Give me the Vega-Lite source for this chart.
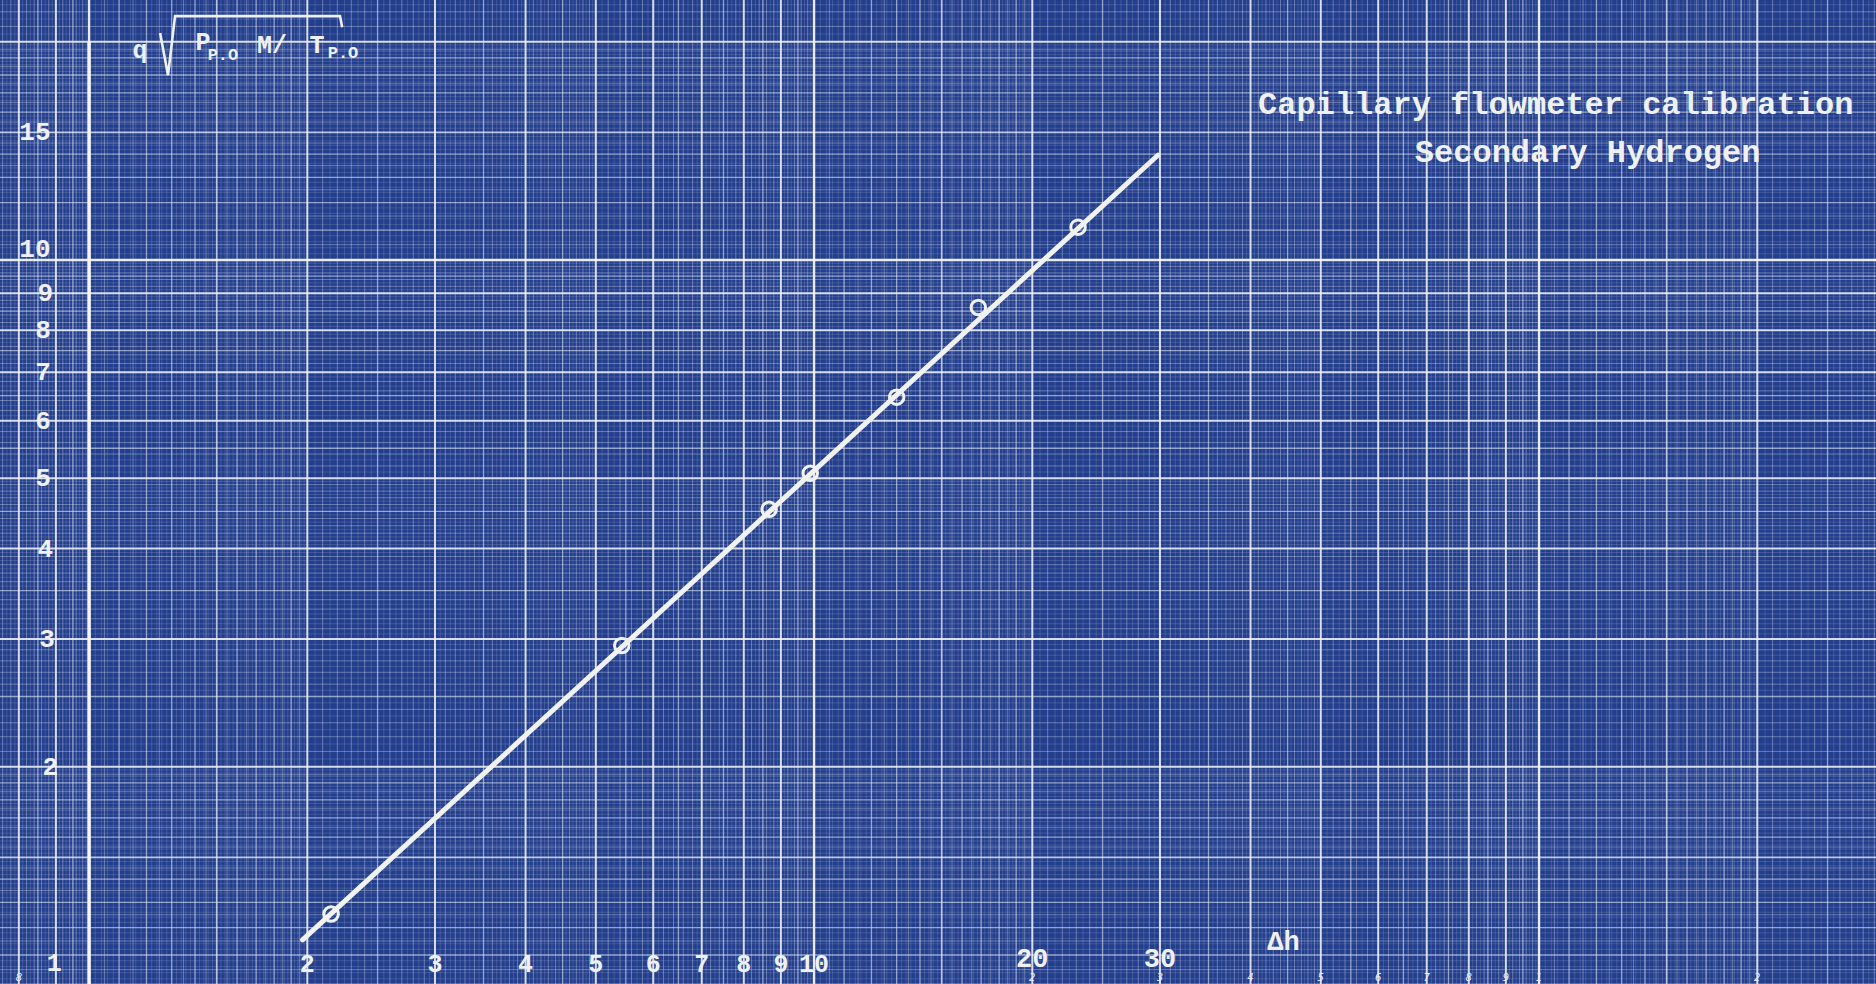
{
  "$schema": "https://vega.github.io/schema/vega-lite/v6.json",
  "width": 1876,
  "height": 984,
  "autosize": {"type": "fit", "contains": "padding"},
  "padding": 0,
  "background": "#233e8c",
  "config": {"view": {"stroke": null}},
  "datasets": {
    "hair": [0.77,0.79,0.81,0.83,0.87,0.89,0.91,0.93,0.97,0.99,
      1.02,1.04,1.06,1.08,1.12,1.14,1.16,1.18,1.22,1.24,1.26,1.28,1.32,1.34,1.36,1.38,1.42,1.44,1.46,1.48,1.52,1.54,1.56,1.58,1.62,1.64,1.66,1.68,1.72,1.74,1.76,1.78,1.82,1.84,1.86,1.88,1.92,1.94,1.96,1.98,
      2.05,2.15,2.25,2.35,2.45,2.55,2.65,2.75,2.85,2.95,3.05,3.15,3.25,3.35,3.45,3.55,3.65,3.75,3.85,3.95,4.05,4.15,4.25,4.35,4.45,4.55,4.65,4.75,4.85,4.95,
      5.1,5.3,5.7,5.9,6.1,6.3,6.7,6.9,7.1,7.3,7.7,7.9,8.1,8.3,8.7,8.9,9.1,9.3,9.7,9.9,
      10.2,10.4,10.6,10.8,11.2,11.4,11.6,11.8,12.2,12.4,12.6,12.8,13.2,13.4,13.6,13.8,14.2,14.4,14.6,14.8,15.2,15.4,15.6,15.8,16.2,16.4,16.6,16.8,17.2,17.4,17.6,17.8,18.2,18.4,18.6,18.8,19.2,19.4,19.6,19.8,
      20.5,21.5,22.5,23.5,24.5,25.5,26.5,27.5,28.5,29.5,30.5,31.5,32.5,33.5,34.5,35.5,36.5,37.5,38.5,39.5,40.5,41.5,42.5,43.5,44.5,45.5,46.5,47.5,48.5,49.5,
      51,53,57,59,61,63,67,69,71,73,77,79,81,83,87,89,91,93,97,99,
      102,104,106,108,112,114,116,118,122,124,126,128,132,134,136,138,142,144,146,148,152,154,156,158,162,164,166,168,172,174,176,178,182,184,186,188,192,194,196,198,
      205,215,225,235,245,255,265,275,285],
    "fine": [0.76,0.78,0.82,0.84,0.86,0.88,0.92,0.94,0.96,0.98,
      1.05,1.15,1.25,1.35,1.45,1.55,1.65,1.75,1.85,1.95,
      2.1,2.2,2.3,2.4,2.6,2.7,2.8,2.9,3.1,3.2,3.3,3.4,3.6,3.7,3.8,3.9,4.1,4.2,4.3,4.4,4.6,4.7,4.8,4.9,
      5.2,5.4,5.6,5.8,6.2,6.4,6.6,6.8,7.2,7.4,7.6,7.8,8.2,8.4,8.6,8.8,9.2,9.4,9.6,9.8,
      10.5,11.5,12.5,13.5,14.5,15.5,16.5,17.5,18.5,19.5,
      21,22,23,24,26,27,28,29,31,32,33,34,36,37,38,39,41,42,43,44,46,47,48,49,
      52,54,56,58,62,64,66,68,72,74,76,78,82,84,86,88,92,94,96,98,
      105,115,125,135,145,155,165,175,185,195,
      210,220,230,240,260,270,280,290],
    "mid": [0.85,0.95,1.1,1.2,1.3,1.4,1.6,1.7,1.8,1.9,2.5,3.5,4.5,5.5,6.5,7.5,8.5,9.5,
      11,12,13,14,16,17,18,19,25,35,45,55,65,75,85,95,
      110,120,130,140,160,170,180,190,250],
    "semi": [1.5,15,150],
    "major": [0.8,0.9,2,3,4,5,6,7,8,9,20,30,40,50,60,70,80,90,200],
    "cycle": [1,10,100]
  },
  "layer": [
    {"data": {"name": "hair"}, "mark": {"type": "rule", "color": "#dde6f3", "strokeWidth": 1, "opacity": 0.16, "clip": true},
     "encoding": {"x": {"field": "data", "type": "quantitative", "scale": {"type": "log", "domain": [0.7536, 291.6], "nice": false}, "axis": null}}},
    {"data": {"name": "hair"}, "mark": {"type": "rule", "color": "#dde6f3", "strokeWidth": 1, "opacity": 0.16, "clip": true},
     "encoding": {"y": {"field": "data", "type": "quantitative", "scale": {"type": "log", "domain": [1.0032, 22.84], "nice": false}, "axis": null}}},
    {"data": {"name": "fine"}, "mark": {"type": "rule", "color": "#e2e9f5", "strokeWidth": 1, "opacity": 0.36, "clip": true},
     "encoding": {"x": {"field": "data", "type": "quantitative", "scale": {"type": "log", "domain": [0.7536, 291.6], "nice": false}, "axis": null}}},
    {"data": {"name": "fine"}, "mark": {"type": "rule", "color": "#e2e9f5", "strokeWidth": 1, "opacity": 0.36, "clip": true},
     "encoding": {"y": {"field": "data", "type": "quantitative", "scale": {"type": "log", "domain": [1.0032, 22.84], "nice": false}, "axis": null}}},
    {"data": {"name": "mid"}, "mark": {"type": "rule", "color": "#e8eef8", "strokeWidth": 1.3, "opacity": 0.58, "clip": true},
     "encoding": {"x": {"field": "data", "type": "quantitative", "scale": {"type": "log", "domain": [0.7536, 291.6], "nice": false}, "axis": null}}},
    {"data": {"name": "mid"}, "mark": {"type": "rule", "color": "#e8eef8", "strokeWidth": 1.3, "opacity": 0.58, "clip": true},
     "encoding": {"y": {"field": "data", "type": "quantitative", "scale": {"type": "log", "domain": [1.0032, 22.84], "nice": false}, "axis": null}}},
    {"data": {"name": "semi"}, "mark": {"type": "rule", "color": "#eef2f8", "strokeWidth": 1.7, "opacity": 0.75, "clip": true},
     "encoding": {"x": {"field": "data", "type": "quantitative", "scale": {"type": "log", "domain": [0.7536, 291.6], "nice": false}, "axis": null}}},
    {"data": {"name": "semi"}, "mark": {"type": "rule", "color": "#eef2f8", "strokeWidth": 1.7, "opacity": 0.75, "clip": true},
     "encoding": {"y": {"field": "data", "type": "quantitative", "scale": {"type": "log", "domain": [1.0032, 22.84], "nice": false}, "axis": null}}},
    {"data": {"name": "major"}, "mark": {"type": "rule", "color": "#f0f3f8", "strokeWidth": 2, "opacity": 0.88, "clip": true},
     "encoding": {"x": {"field": "data", "type": "quantitative", "scale": {"type": "log", "domain": [0.7536, 291.6], "nice": false}, "axis": null}}},
    {"data": {"name": "major"}, "mark": {"type": "rule", "color": "#f0f3f8", "strokeWidth": 2, "opacity": 0.88, "clip": true},
     "encoding": {"y": {"field": "data", "type": "quantitative", "scale": {"type": "log", "domain": [1.0032, 22.84], "nice": false}, "axis": null}}},
    {"data": {"name": "cycle"}, "mark": {"type": "rule", "color": "#f2f4f8", "strokeWidth": 2.4, "opacity": 0.95, "clip": true},
     "encoding": {"x": {"field": "data", "type": "quantitative", "scale": {"type": "log", "domain": [0.7536, 291.6], "nice": false}, "axis": null}}},
    {"data": {"name": "cycle"}, "mark": {"type": "rule", "color": "#f2f4f8", "strokeWidth": 2.4, "opacity": 0.95, "clip": true},
     "encoding": {"y": {"field": "data", "type": "quantitative", "scale": {"type": "log", "domain": [1.0032, 22.84], "nice": false}, "axis": null}}},

    {"data": {"values": [{"x": 1, "y": 1.0, "y2": 20}]},
     "mark": {"type": "rule", "color": "#f4f5f4", "strokeWidth": 3.5, "clip": true},
     "encoding": {
       "x": {"field": "x", "type": "quantitative", "scale": {"type": "log", "domain": [0.7536, 291.6], "nice": false}, "axis": null},
       "y": {"field": "y", "type": "quantitative", "scale": {"type": "log", "domain": [1.0032, 22.84], "nice": false}, "axis": null},
       "y2": {"field": "y2"}}},

    {"data": {"values": [{"dh": 1.97, "q": 1.154}, {"dh": 29.8, "q": 13.95}]},
     "mark": {"type": "line", "color": "#f1f2ef", "strokeWidth": 5, "strokeCap": "round", "clip": true},
     "encoding": {
       "x": {"field": "dh", "type": "quantitative", "scale": {"type": "log", "domain": [0.7536, 291.6], "nice": false}, "axis": null},
       "y": {"field": "q", "type": "quantitative", "scale": {"type": "log", "domain": [1.0032, 22.84], "nice": false}, "axis": null}}},

    {"data": {"values": [
       {"dh": 2.157, "q": 1.253},
       {"dh": 5.43, "q": 2.94},
       {"dh": 8.67, "q": 4.53},
       {"dh": 9.88, "q": 5.08},
       {"dh": 13.0, "q": 6.47},
       {"dh": 16.85, "q": 8.6},
       {"dh": 23.13, "q": 11.1}]},
     "mark": {"type": "point", "shape": "circle", "filled": false, "color": "#f1f2ef", "strokeWidth": 3, "size": 210, "opacity": 1},
     "encoding": {
       "x": {"field": "dh", "type": "quantitative", "scale": {"type": "log", "domain": [0.7536, 291.6], "nice": false}, "axis": null},
       "y": {"field": "q", "type": "quantitative", "scale": {"type": "log", "domain": [1.0032, 22.84], "nice": false}, "axis": null}}},

    {"data": {"values": [
       {"x": 1.253, "y": 20.56, "o": 1},
       {"x": 1.285, "y": 17.99, "o": 2},
       {"x": 1.314, "y": 21.7, "o": 3},
       {"x": 2.219, "y": 21.7, "o": 4},
       {"x": 2.234, "y": 20.95, "o": 5}]},
     "mark": {"type": "line", "color": "#eef0f2", "strokeWidth": 2.6, "clip": true},
     "encoding": {
       "x": {"field": "x", "type": "quantitative", "scale": {"type": "log", "domain": [0.7536, 291.6], "nice": false}, "axis": null},
       "y": {"field": "y", "type": "quantitative", "scale": {"type": "log", "domain": [1.0032, 22.84], "nice": false}, "axis": null},
       "order": {"field": "o", "type": "quantitative"}}},

    {"data": {"values": [
       {"t": "q", "x": 1.176, "y": 19.49},
       {"t": "P", "x": 1.436, "y": 19.98},
       {"t": "M/", "x": 1.788, "y": 19.8},
       {"t": "T", "x": 2.063, "y": 19.8}]},
     "mark": {"type": "text", "font": "Liberation Mono", "fontWeight": "bold", "fontSize": 25, "color": "#eef0f2", "align": "center", "baseline": "middle"},
     "encoding": {
       "x": {"field": "x", "type": "quantitative", "scale": {"type": "log", "domain": [0.7536, 291.6], "nice": false}, "axis": null},
       "y": {"field": "y", "type": "quantitative", "scale": {"type": "log", "domain": [1.0032, 22.84], "nice": false}, "axis": null},
       "text": {"field": "t"}}},

    {"data": {"values": [
       {"t": "P.O", "x": 1.53, "y": 19.18},
       {"t": "P.O", "x": 2.24, "y": 19.3}]},
     "mark": {"type": "text", "font": "Liberation Mono", "fontWeight": "bold", "fontSize": 17, "color": "#eef0f2", "align": "center", "baseline": "middle"},
     "encoding": {
       "x": {"field": "x", "type": "quantitative", "scale": {"type": "log", "domain": [0.7536, 291.6], "nice": false}, "axis": null},
       "y": {"field": "y", "type": "quantitative", "scale": {"type": "log", "domain": [1.0032, 22.84], "nice": false}, "axis": null},
       "text": {"field": "t"}}},

    {"data": {"values": [
       {"t": "15", "x": 0.842, "y": 15},
       {"t": "9", "x": 0.87, "y": 9},
       {"t": "8", "x": 0.864, "y": 8},
       {"t": "7", "x": 0.864, "y": 7},
       {"t": "6", "x": 0.864, "y": 6},
       {"t": "5", "x": 0.864, "y": 5},
       {"t": "4", "x": 0.87, "y": 4},
       {"t": "3", "x": 0.875, "y": 3},
       {"t": "2", "x": 0.884, "y": 2}]},
     "mark": {"type": "text", "font": "Liberation Mono", "fontWeight": "bold", "fontSize": 26, "color": "#eef0f2", "align": "center", "baseline": "middle"},
     "encoding": {
       "x": {"field": "x", "type": "quantitative", "scale": {"type": "log", "domain": [0.7536, 291.6], "nice": false}, "axis": null},
       "y": {"field": "y", "type": "quantitative", "scale": {"type": "log", "domain": [1.0032, 22.84], "nice": false}, "axis": null},
       "text": {"field": "t"}}},

    {"data": {"values": [{"t": "10", "x": 0.842, "y": 10}]},
     "mark": {"type": "text", "font": "Liberation Mono", "fontWeight": "bold", "fontSize": 26, "color": "#eef0f2", "align": "center", "baseline": "middle", "dy": -11},
     "encoding": {
       "x": {"field": "x", "type": "quantitative", "scale": {"type": "log", "domain": [0.7536, 291.6], "nice": false}, "axis": null},
       "y": {"field": "y", "type": "quantitative", "scale": {"type": "log", "domain": [1.0032, 22.84], "nice": false}, "axis": null},
       "text": {"field": "t"}}},

    {"data": {"values": [
       {"t": "1", "x": 0.895, "y": 1.072},
       {"t": "2", "x": 2, "y": 1.07},
       {"t": "3", "x": 3, "y": 1.07},
       {"t": "4", "x": 4, "y": 1.07},
       {"t": "5", "x": 5, "y": 1.07},
       {"t": "6", "x": 6, "y": 1.07},
       {"t": "7", "x": 7, "y": 1.07},
       {"t": "8", "x": 8, "y": 1.07},
       {"t": "9", "x": 9, "y": 1.07},
       {"t": "10", "x": 10, "y": 1.07}]},
     "mark": {"type": "text", "font": "Liberation Mono", "fontWeight": "bold", "fontSize": 25, "color": "#eef0f2", "align": "center", "baseline": "middle"},
     "encoding": {
       "x": {"field": "x", "type": "quantitative", "scale": {"type": "log", "domain": [0.7536, 291.6], "nice": false}, "axis": null},
       "y": {"field": "y", "type": "quantitative", "scale": {"type": "log", "domain": [1.0032, 22.84], "nice": false}, "axis": null},
       "text": {"field": "t"}}},

    {"data": {"values": [
       {"t": "20", "x": 20, "y": 1.085},
       {"t": "30", "x": 30, "y": 1.085},
       {"t": "Δh", "x": 44.4, "y": 1.146}]},
     "mark": {"type": "text", "font": "Liberation Mono", "fontWeight": "bold", "fontSize": 27, "color": "#eef0f2", "align": "center", "baseline": "middle"},
     "encoding": {
       "x": {"field": "x", "type": "quantitative", "scale": {"type": "log", "domain": [0.7536, 291.6], "nice": false}, "axis": null},
       "y": {"field": "y", "type": "quantitative", "scale": {"type": "log", "domain": [1.0032, 22.84], "nice": false}, "axis": null},
       "text": {"field": "t"}}},

    {"data": {"values": [
       {"t": "8", "x": 0.8, "y": 1.022},
       {"t": "2", "x": 20, "y": 1.022},
       {"t": "3", "x": 30, "y": 1.022},
       {"t": "4", "x": 40, "y": 1.022},
       {"t": "5", "x": 50, "y": 1.022},
       {"t": "6", "x": 60, "y": 1.022},
       {"t": "7", "x": 70, "y": 1.022},
       {"t": "8", "x": 80, "y": 1.022},
       {"t": "9", "x": 90, "y": 1.022},
       {"t": "1", "x": 100, "y": 1.022},
       {"t": "2", "x": 200, "y": 1.022}]},
     "mark": {"type": "text", "font": "DejaVu Sans", "fontStyle": "italic", "fontSize": 10, "color": "#e8edf5", "align": "center", "baseline": "middle"},
     "encoding": {
       "x": {"field": "x", "type": "quantitative", "scale": {"type": "log", "domain": [0.7536, 291.6], "nice": false}, "axis": null},
       "y": {"field": "y", "type": "quantitative", "scale": {"type": "log", "domain": [1.0032, 22.84], "nice": false}, "axis": null},
       "text": {"field": "t"}}},

    {"data": {"values": [
       {"t": "Capillary flowmeter calibration", "x": 40.97, "y": 16.41},
       {"t": "Secondary Hydrogen", "x": 67.4, "y": 14.09}]},
     "mark": {"type": "text", "font": "Liberation Mono", "fontWeight": "bold", "fontSize": 32, "color": "#eef0f2", "align": "left", "baseline": "middle"},
     "encoding": {
       "x": {"field": "x", "type": "quantitative", "scale": {"type": "log", "domain": [0.7536, 291.6], "nice": false}, "axis": null},
       "y": {"field": "y", "type": "quantitative", "scale": {"type": "log", "domain": [1.0032, 22.84], "nice": false}, "axis": null},
       "text": {"field": "t"}}}
  ]
}
